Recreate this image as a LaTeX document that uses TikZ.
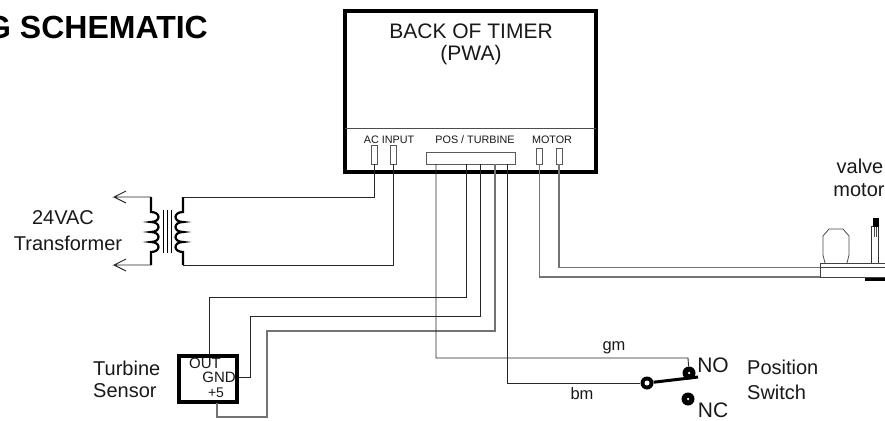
\documentclass[tikz,border=0pt]{standalone}
\usepackage{fontspec}
\setmainfont{Liberation Sans}
\tikzset{
 lbl/.style={inner sep=0pt,font=\fontsize{#1}{#1}\selectfont,text=black!90},
 wire/.style={draw=black!85,line width=0.9pt},
 greywire/.style={draw=black!55,line width=1.1pt},
 coil/.style={draw=black,line width=2.2pt},
 pin/.style={draw=black!65,line width=0.9pt,fill=white,minimum width=6pt,inner sep=0pt,outer sep=0pt},
 thickbox/.style={draw=black,line width=4pt,inner sep=0pt,outer sep=0pt},
 dot/.style={circle,fill=black,inner sep=0pt,minimum size=#1},
 hole/.style={circle,fill=white,inner sep=0pt,minimum size=#1}
}
\begin{document}
\begin{tikzpicture}[x=1pt,y=-1pt]
\useasboundingbox (0,0) rectangle (885,420);
\fill[white] (0,0) rectangle (885,420);
\node[inner sep=0pt,font=\bfseries\fontsize{32}{32}\selectfont,text=black,anchor=base west] (title) at (-14,38) {G SCHEMATIC};
% timer
\node[thickbox,minimum width=251pt,minimum height=161pt,anchor=north west] (timer) at (345,11) {};
\draw[black!70,line width=0.8pt] (timer.west |- 0,128) -- (timer.east |- 0,128);
\node[lbl=21] (t1) at (471,31) {BACK OF TIMER};
\node[lbl=21] (t1b) at (471,55) {(PWA)};
\node[lbl=10.8] (t2) at (389,140) {AC INPUT};
\node[lbl=10.8] (t3) at (475,140) {POS / TURBINE};
\node[lbl=10.8] (t4) at (552,140) {MOTOR};
\node[pin,minimum height=19pt,anchor=south] (ac1) at (374,164) {};
\node[pin,minimum height=19pt,anchor=south] (ac2) at (393,164) {};
\node[pin,minimum width=89pt,minimum height=12pt,anchor=south west] (pos) at (426,164) {};
\node[pin,minimum height=16pt,anchor=south] (m1) at (539.5,164) {};
\node[pin,minimum height=16pt,anchor=south] (m2) at (559,164) {};
% transformer
\coordinate (tl1) at (151,197); \coordinate (tl2) at (151,265);
\coordinate (tr1) at (183,197); \coordinate (tr2) at (183,265);
\coordinate (ar1) at (114,197); \coordinate (ar2) at (114,265);
\draw[coil] (tl1) -- (151,212)
  .. controls +(10,0) and +(10,0) .. ++(0,10)
  .. controls +(10,0) and +(10,0) .. ++(0,10)
  .. controls +(10,0) and +(10,0) .. ++(0,10)
  .. controls +(10,0) and +(10,0) .. ++(0,10) -- (tl2);
\draw[coil] (tr1) -- (183,212)
  .. controls +(-10,0) and +(-10,0) .. ++(0,10)
  .. controls +(-10,0) and +(-10,0) .. ++(0,10)
  .. controls +(-10,0) and +(-10,0) .. ++(0,10)
  .. controls +(-10,0) and +(-10,0) .. ++(0,10) -- (tr2);
\foreach \x in {163.5,167.5,171.5}{\draw[black,line width=1.5pt] (\x,210) -- (\x,253);}
\draw[wire] (tl1) -- (ar1) -- ++(12,-6) (ar1) -- ++(12,6);
\draw[wire] (tl2) -- (ar2) -- ++(12,-6) (ar2) -- ++(12,6);
\draw[wire] (ac1.south) |- (tr1);
\draw[wire] (ac2.south) |- (tr2);
\node[lbl=20] (n24) at (63,218) {24VAC};
\node[lbl=20] (ntr) at (68,243) {Transformer};
% sensor
\node[thickbox,minimum width=58pt,minimum height=46pt,anchor=north west] (sensor) at (179,356) {};
\node[lbl=15] (sout) at (205,363) {OUT};
\node[lbl=15] (sgnd) at (219,377) {GND};
\node[lbl=14] (s5) at (216,393) {+5};
\node[lbl=20,anchor=west] (ts) at (93,368) {Turbine};
\node[lbl=20,anchor=west] (ts2) at (93,391) {Sensor};
\coordinate (sg) at (238,377);
\coordinate (sp) at (217,403);
\draw[wire] (466,164) -- (466,297) -- (209,297) -- (209,355);
\draw[wire] (480,164) -- (480,316) -- (250,316) -- (250,377) -- (sg);
\draw[greywire] (495,164) -- (495,331) -- (267,331) -- (267,417) -- (217,417) -- (sp);
% switch
\node[dot=13pt] (no) at (689,373) {};
\node[hole=2.5pt] at (no) {};
\node[dot=13pt] (piv) at (647,383) {};
\node[hole=5pt] at (piv) {};
\node[dot=13pt] (nc) at (688,399) {};
\node[hole=2.5pt] at (nc) {};
\coordinate (armend) at (698,377);
\draw[black,line width=3pt] (piv) -- (armend);
\draw[wire] (436,164) -- (436,358) -- (688,358) -- (no);
\draw[wire] (507,164) -- (507,383) -- (piv);
\node[lbl=21] (lno) at (713,365) {NO};
\node[lbl=21] (lnc) at (713,410) {NC};
\node[lbl=20,anchor=west] (ps1) at (747,367) {Position};
\node[lbl=20,anchor=west] (ps2) at (747,392) {Switch};
\node[lbl=16.5] (gm) at (614,348) {gm};
\node[lbl=16.5] (bm) at (582,394) {bm};
% valve motor
\node[lbl=20] (v1) at (860,166) {valve};
\node[lbl=20] (v2) at (859,190) {motor};
\coordinate (vb1) at (820,267.5);
\coordinate (vb2) at (820,277);
\fill[black] (865,277) rectangle (885,281);
\draw[black!75,line width=0.9pt,fill=white] (887,263) -- (820,263) -- (820,277) -- (887,277);
\draw[black!75,line width=0.9pt] (820,267.5) -- (887,267.5);
\draw[greywire] (m1.south) -- (539.5,277) -- (vb2);
\draw[greywire] (m2.south) -- (559,267.5) -- (vb1);
\draw[black!70,line width=0.8pt] (825,263) -- (823,255) -- (823,236) -- (829,229) -- (843,229) -- (849,236) -- (849,255) -- (847,263);
\draw[black!80,line width=0.9pt] (871,263) -- (871,226) -- (878,226) -- (878,263);
\fill[black] (873,218) rectangle (879,227);
\draw[black!70,line width=0.7pt] (874,227) -- (874,237) (876,227) -- (876,237);
\end{tikzpicture}
\end{document}
